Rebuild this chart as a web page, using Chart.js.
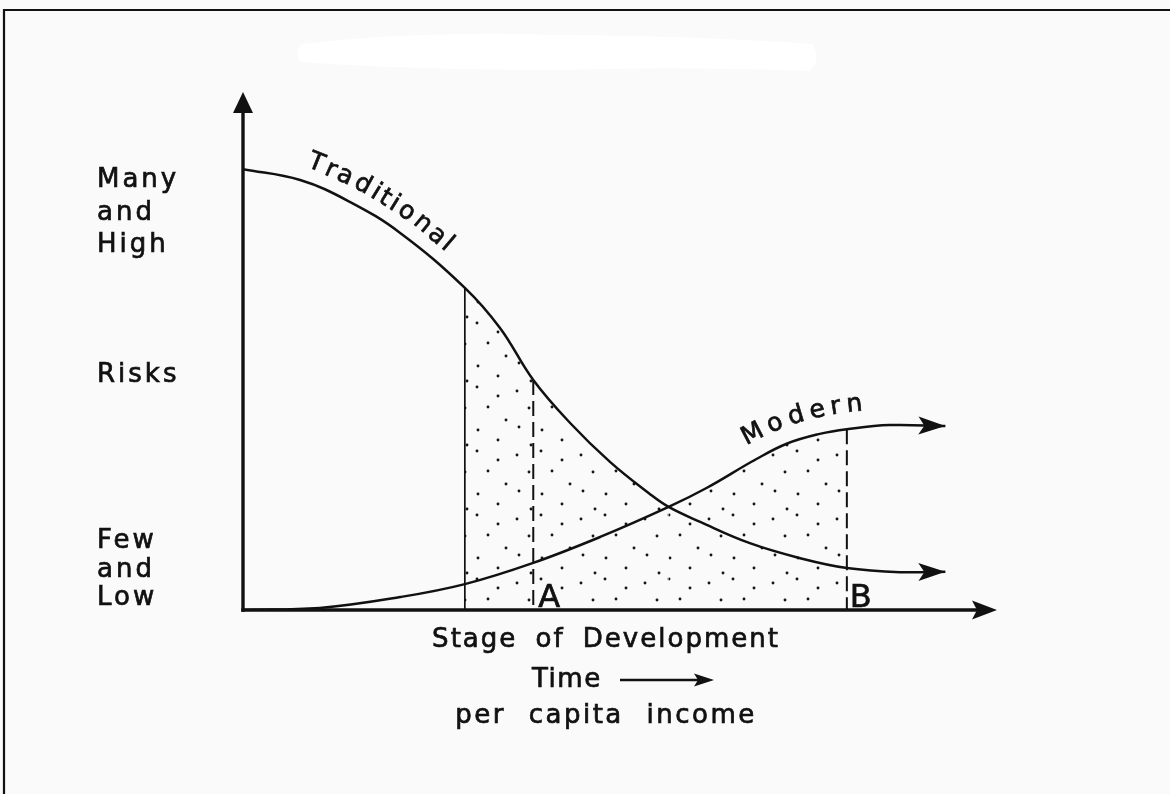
<!DOCTYPE html>
<html><head><meta charset="utf-8">
<script src="https://cdn.jsdelivr.net/npm/chart.js@4.4.1/dist/chart.umd.min.js"></script>
<style>html,body{margin:0;padding:0;background:#fafafa;overflow:hidden}</style>
</head><body>
<canvas id="c" width="1170" height="794"></canvas>
<script>
// ---- data (stage 0-100, risk 0-100) ----
const traditionalX = [0, 7.6, 14.2, 20.9, 29.5, 34.2, 38.6, 43.5, 48.8, 54.1, 56.6, 60.8, 67.4, 74.1, 80.3, 87.4, 93.4];
const traditionalY = [85.1, 83.0, 78.8, 72.8, 62.2, 54.4, 44.4, 36.1, 28.6, 22.4, 19.9, 17.0, 12.9, 10.0, 8.1, 7.3, 7.4];
const modernX = [0, 10.2, 20.9, 29.5, 38.6, 47.5, 56.6, 61.7, 68.1, 72.3, 76.7, 80.3, 86.0, 93.4];
const modernY = [0, 0.4, 2.5, 5.0, 9.1, 14.1, 19.9, 23.6, 29.0, 32.1, 34.0, 34.9, 35.7, 35.5];
const shadeStart = 29.5;
const crossingX = 56.6;
const stageA = 38.6;
const stageB = 80.3;
const curveLabels = ['Traditional', 'Modern'];
const stageLabels = ['A', 'B'];
const yLabelsHigh = ['Many', 'and', 'High'];
const yLabelMid = 'Risks';
const yLabelsLow = ['Few', 'and', 'Low'];
const xLabels = ['Stage of Development', 'Time', 'per capita income'];

// ---- build library data from the arrays ----
const trad = traditionalX.map((x, i) => ({x, y: traditionalY[i]}));
const modern = modernX.map((x, i) => ({x, y: modernY[i]}));
const shadeTrad = trad.filter(p => p.x >= shadeStart && p.x <= crossingX);
const shadeModern = modern.filter(p => p.x >= crossingX && p.x <= stageB);
const yTrad = x => traditionalY[traditionalX.indexOf(x)];
const yMod = x => modernY[modernX.indexOf(x)];

function dotPattern() {
  const c = document.createElement('canvas');
  c.width = 64; c.height = 64;
  const g = c.getContext('2d');
  g.fillStyle = '#151515';
  [[5,7],[29,3],[50,12],[17,24],[40,23],[58,36],[7,43],[30,46],[50,56],[19,61]].forEach(([x,y]) => {
    g.beginPath(); g.arc(x, y, 1.45, 0, Math.PI*2); g.fill();
  });
  return g.createPattern(c, 'repeat');
}

const INK = '#111';
const FONT = '"DejaVu Sans", "Liberation Sans", sans-serif';

function barbArrow(ctx, tx, ty, ang, len, half, notch) {
  const dx = Math.cos(ang), dy = Math.sin(ang);
  const nx = -dy, ny = dx;
  ctx.beginPath();
  ctx.moveTo(tx, ty);
  ctx.lineTo(tx - len*dx + half*nx, ty - len*dy + half*ny);
  ctx.lineTo(tx - (len-notch)*dx, ty - (len-notch)*dy);
  ctx.lineTo(tx - len*dx - half*nx, ty - len*dy - half*ny);
  ctx.closePath();
  ctx.fill();
}

function inkText(ctx, s, x, y) {
  ctx.fillText(s, x, y);
  ctx.strokeText(s, x, y);
}

function textAlong(ctx, pts, text, startX, offset, spacing) {
  const yAt = px => {
    for (let i = 0; i < pts.length - 1; i++) {
      if (px >= pts[i].x && px <= pts[i+1].x) {
        const t = (px - pts[i].x) / (pts[i+1].x - pts[i].x);
        return pts[i].y + t * (pts[i+1].y - pts[i].y);
      }
    }
    return pts[pts.length-1].y;
  };
  const ang = px => Math.atan2(yAt(px + 12) - yAt(px - 12), 24);
  let cx = startX;
  for (const ch of text) {
    const w = ctx.measureText(ch).width;
    let th = ang(cx);
    const mid = cx + (w/2) * Math.cos(th);
    th = ang(mid);
    const px = cx + offset * Math.sin(th);
    const py = yAt(cx) - offset * Math.cos(th);
    ctx.save();
    ctx.translate(px, py);
    ctx.rotate(th);
    inkText(ctx, ch, 0, 0);
    ctx.restore();
    cx += (w + spacing) * Math.cos(th);
  }
}

const deco = {
  id: 'deco',
  beforeDraw(chart) {
    const ctx = chart.ctx;
    ctx.save();
    ctx.fillStyle = '#fafafa';
    ctx.fillRect(0, 0, chart.width, chart.height);
    // whited-out patch at top
    ctx.fillStyle = '#ffffff';
    ctx.beginPath();
    ctx.moveTo(302, 44); ctx.quadraticCurveTo(420, 30, 560, 35);
    ctx.quadraticCurveTo(700, 36, 812, 44);
    ctx.quadraticCurveTo(822, 58, 810, 71);
    ctx.quadraticCurveTo(680, 66, 560, 70);
    ctx.quadraticCurveTo(420, 70, 300, 62);
    ctx.quadraticCurveTo(294, 52, 302, 44);
    ctx.fill();
    // frame
    ctx.strokeStyle = INK; ctx.lineWidth = 2.2;
    ctx.beginPath(); ctx.moveTo(4, 794); ctx.lineTo(4, 10); ctx.lineTo(1170, 10); ctx.stroke();
    ctx.restore();
  },
  afterDatasetsDraw(chart) {
    const ctx = chart.ctx;
    const xs = chart.scales.x, ys = chart.scales.y;
    const x0 = xs.getPixelForValue(0), y0 = ys.getPixelForValue(0);
    const yTop = ys.getPixelForValue(100), xRight = xs.getPixelForValue(100);
    ctx.save();
    ctx.fillStyle = INK; ctx.strokeStyle = INK;
    // axes
    ctx.lineWidth = 3.4; ctx.lineCap = 'butt';
    ctx.beginPath(); ctx.moveTo(x0, y0 + 1.7); ctx.lineTo(x0, yTop + 16); ctx.stroke();
    ctx.beginPath(); ctx.moveTo(x0 - 1.7, y0); ctx.lineTo(xRight - 14, y0); ctx.stroke();
    ctx.beginPath(); ctx.moveTo(x0, yTop); ctx.lineTo(x0 - 10, yTop + 21); ctx.lineTo(x0 + 10, yTop + 21); ctx.closePath(); ctx.fill();
    barbArrow(ctx, xRight + 2, y0, 0, 25, 9.5, 5);
    // curve arrowheads
    [2, 3].forEach(di => {
      const pts = chart.getDatasetMeta(di).data;
      const a = pts[pts.length - 2], b = pts[pts.length - 1];
      barbArrow(ctx, b.x, b.y, Math.atan2(b.y - a.y, b.x - a.x), 27, 9, 6);
    });
    ctx.lineWidth = 0.7;
    // curve labels
    ctx.font = '25px ' + FONT;
    ctx.textBaseline = 'alphabetic';
    textAlong(ctx, chart.getDatasetMeta(2).data, curveLabels[0], 301, 15, 2.5);
    textAlong(ctx, chart.getDatasetMeta(3).data, curveLabels[1], 754, 17, 4.5);
    // stage labels
    ctx.font = '32px ' + FONT;
    inkText(ctx, stageLabels[0], xs.getPixelForValue(stageA) + 5, y0 - 3);
    inkText(ctx, stageLabels[1], xs.getPixelForValue(stageB) + 3, y0 - 3);
    // y-axis labels
    ctx.font = '26px ' + FONT;
    ctx.letterSpacing = '3px';
    ctx.textAlign = 'left';
    [187, 220, 252].forEach((by, i) => inkText(ctx, yLabelsHigh[i], 97, by));
    inkText(ctx, yLabelMid, 97, 382);
    [548, 577, 605].forEach((by, i) => inkText(ctx, yLabelsLow[i], 97, by));
    // x-axis labels
    ctx.letterSpacing = '2px';
    ctx.wordSpacing = '8px';
    ctx.textAlign = 'center';
    inkText(ctx, xLabels[0], 606, 647);
    ctx.textAlign = 'left';
    ctx.letterSpacing = '1.5px';
    inkText(ctx, xLabels[1], 532, 687);
    ctx.lineWidth = 2.4;
    ctx.beginPath(); ctx.moveTo(620, 680); ctx.lineTo(705, 680); ctx.stroke();
    barbArrow(ctx, 714, 680, 0, 20, 6.5, 4);
    ctx.lineWidth = 0.7;
    ctx.letterSpacing = '2.5px';
    ctx.wordSpacing = '12px';
    ctx.textAlign = 'center';
    inkText(ctx, xLabels[2], 606, 723);
    ctx.restore();
  }
};

const curve = { borderColor: INK, borderWidth: 2.5, pointRadius: 0, tension: 0.4, fill: false, order: 1 };
new Chart(document.getElementById('c'), {
  type: 'line',
  data: {
    datasets: [
      { data: shadeTrad, fill: 'origin', backgroundColor: dotPattern(), borderWidth: 0,
        pointRadius: 0, tension: 0.4, order: 10 },
      { data: shadeModern, fill: 'origin', backgroundColor: dotPattern(), borderWidth: 0,
        pointRadius: 0, tension: 0.4, order: 10 },
      Object.assign({ data: trad }, curve),
      Object.assign({ data: modern }, curve),
      { data: [{x: shadeStart, y: yTrad(shadeStart)}, {x: shadeStart, y: 0}],
        borderColor: INK, borderWidth: 1.7, pointRadius: 0, fill: false, order: 2 },
      { data: [{x: stageA, y: yTrad(stageA)}, {x: stageA, y: 0}],
        borderColor: INK, borderWidth: 2, borderDash: [15, 6], pointRadius: 0, fill: false, order: 2 },
      { data: [{x: stageB, y: yMod(stageB)}, {x: stageB, y: 0}],
        borderColor: INK, borderWidth: 2, borderDash: [15, 6], pointRadius: 0, fill: false, order: 2 }
    ]
  },
  options: {
    responsive: false,
    animation: false,
    events: [],
    layout: { padding: { left: 243, right: 175, top: 92, bottom: 184 } },
    scales: {
      x: { type: 'linear', min: 0, max: 100, display: false },
      y: { type: 'linear', min: 0, max: 100, display: false }
    },
    plugins: { legend: { display: false }, tooltip: { enabled: false } }
  },
  plugins: [deco]
});
</script>
</body></html>
